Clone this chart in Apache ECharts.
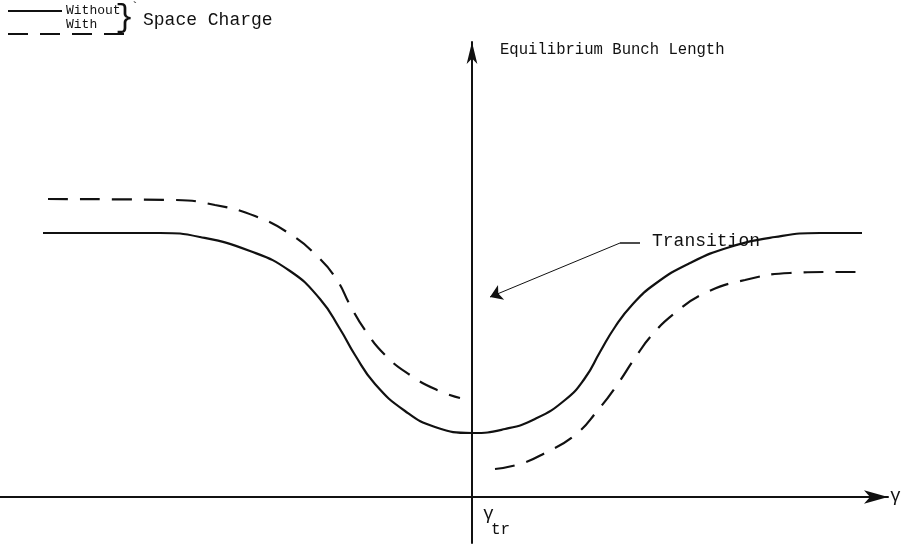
<!DOCTYPE html>
<html>
<head>
<meta charset="utf-8">
<script src="https://cdn.jsdelivr.net/npm/echarts@6/dist/echarts.min.js"></script>
<style>
  html, body { margin: 0; padding: 0; background: #fff; }
  #chart { width: 901px; height: 545px; }
</style>
</head>
<body>
<div id="chart"></div>
<script>
// gamma in arbitrary units, transition at 0; bunch length in arbitrary units
const withoutSC = [
  [-42.9, 26.4], [-31.2, 26.4], [-27.2, 26.0], [-22.2, 24.6], [-18.2, 22.6],
  [-15.2, 19.8], [-13.2, 16.8], [-11.7, 14.2], [-9.7, 11.3], [-6.7, 8.6],
  [-3.7, 7.0], [0, 6.4], [3.3, 6.8], [6.3, 7.8], [9.3, 9.7], [11.3, 11.9],
  [12.8, 14.5], [14.3, 17.0], [16.0, 19.2], [18.3, 21.3], [21.8, 23.4],
  [25.8, 25.0], [30.3, 26.0], [34.8, 26.4], [39.0, 26.4]
];
const withSCBelow = [
  [-42.4, 29.8], [-29.7, 29.7], [-25.7, 29.2], [-21.7, 28.1], [-18.2, 26.3],
  [-15.4, 24.0], [-13.5, 21.7], [-12.2, 19.2], [-10.7, 16.7], [-8.7, 14.2],
  [-6.2, 12.2], [-3.5, 10.7], [-1.2, 9.9]
];
const withSCAbove = [
  [2.3, 2.8], [4.8, 3.3], [7.3, 4.4], [10.3, 6.2], [12.6, 8.7], [14.5, 11.2],
  [16.3, 13.9], [18.0, 16.2], [20.3, 18.4], [23.3, 20.4], [27.3, 21.7],
  [31.8, 22.4], [35.8, 22.5], [39.0, 22.5]
];
const transitionArrow = [[14.8, 25.4], [1.8, 20.0]];
const transitionTick = [[14.8, 25.4], [16.8, 25.4]];

const mono = '"Liberation Mono", "DejaVu Sans Mono", monospace';
const ink = '#111';
const dash = [20, 12];

const chart = echarts.init(document.getElementById('chart'));

chart.setOption({
  backgroundColor: '#fff',
  animation: false,
  grid: { left: 0, right: 13, top: 42, bottom: 2 },
  xAxis: {
    type: 'value', min: -47.2, max: 41.6,
    axisLine: { onZero: true, symbol: ['none', 'arrow'], symbolSize: [10, 24], lineStyle: { color: ink, width: 2 } },
    axisTick: { show: false }, axisLabel: { show: false }, splitLine: { show: false }
  },
  yAxis: {
    type: 'value', min: -4.6, max: 45.5,
    axisLine: { onZero: true, symbol: ['none', 'arrow'], symbolSize: [8, 22], lineStyle: { color: ink, width: 2 } },
    axisTick: { show: false }, axisLabel: { show: false }, splitLine: { show: false }
  },
  graphic: [
    // key
    { type: 'line', shape: { x1: 8, y1: 11, x2: 62, y2: 11 }, style: { stroke: ink, lineWidth: 2.2 } },
    { type: 'line', shape: { x1: 8, y1: 34, x2: 132, y2: 34 }, style: { stroke: ink, lineWidth: 2.2, lineDash: dash } },
    { type: 'text', left: 66, top: 4, style: { text: 'Without', font: '13px ' + mono, fill: ink } },
    { type: 'text', left: 66, top: 18, style: { text: 'With', font: '13px ' + mono, fill: ink } },
    { type: 'text', left: 115, top: 2, style: { text: '}', font: '32px ' + mono, fill: ink } },
    { type: 'text', left: 131, top: 1, style: { text: '`', font: '13px ' + mono, fill: ink } },
    { type: 'text', left: 143, top: 11, style: { text: 'Space Charge', font: '18px ' + mono, fill: ink } },
    // labels
    { type: 'text', left: 500, top: 42, style: { text: 'Equilibrium Bunch Length', font: '15.6px ' + mono, fill: ink } },
    { type: 'text', left: 652, top: 232, style: { text: 'Transition', font: '18px ' + mono, fill: ink } },
    { type: 'text', left: 483, top: 505, style: { text: 'γ', font: '18px ' + mono, fill: ink } },
    { type: 'text', left: 491, top: 522, style: { text: 'tr', font: '16px ' + mono, fill: ink } },
    { type: 'text', left: 890, top: 487, style: { text: 'γ', font: '18px ' + mono, fill: ink } }
  ],
  series: [
    {
      name: 'Without', type: 'line', data: withoutSC, smooth: 0.5,
      symbol: 'none', lineStyle: { color: ink, width: 2.2 }
    },
    {
      name: 'With', type: 'line', data: withSCBelow, smooth: 0.5,
      symbol: 'none', lineStyle: { color: ink, width: 2.2, type: dash }
    },
    {
      name: 'With', type: 'line', data: withSCAbove, smooth: 0.5,
      symbol: 'none', lineStyle: { color: ink, width: 2.2, type: dash }
    },
    {
      name: 'Transition', type: 'lines', coordinateSystem: 'cartesian2d',
      symbol: ['none', 'arrow'], symbolSize: 12,
      lineStyle: { color: ink, width: 1, opacity: 1 },
      data: [{ coords: transitionArrow }]
    },
    {
      name: 'TransitionTick', type: 'lines', coordinateSystem: 'cartesian2d',
      lineStyle: { color: ink, width: 1.5, opacity: 1 },
      data: [{ coords: transitionTick }]
    }
  ]
});
</script>
</body>
</html>
